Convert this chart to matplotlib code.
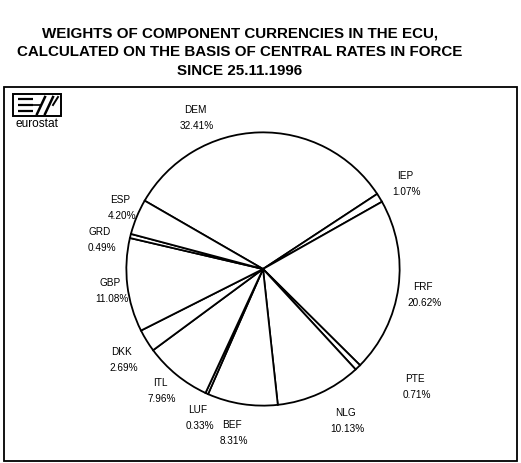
import matplotlib
matplotlib.use("Agg")
import matplotlib.pyplot as plt
from matplotlib.patches import Rectangle

# ECU basket weights, clockwise from the top
currencies = ["DEM", "IEP", "FRF", "PTE", "NLG", "BEF", "LUF", "ITL", "DKK", "GBP", "GRD", "ESP"]
weights = [32.41, 1.07, 20.62, 0.71, 10.13, 8.31, 0.33, 7.96, 2.69, 11.08, 0.49, 4.20]

TITLE = ("WEIGHTS OF COMPONENT CURRENCIES IN THE ECU,\n"
         "CALCULATED ON THE BASIS OF CENTRAL RATES IN FORCE\n"
         "SINCE 25.11.1996")

# label anchor (pixel coords of the name line) for each currency
LABEL_POS = {
    "DEM": (195, 110), "IEP": (405, 176), "FRF": (423, 287), "PTE": (415, 379),
    "NLG": (345, 413), "BEF": (232, 425), "LUF": (198, 410), "ITL": (160, 383),
    "DKK": (122, 352), "GBP": (110, 283), "GRD": (100, 232), "ESP": (120, 200),
}

W, H = 521, 464
plt.rcParams["font.family"] = ["Liberation Sans", "DejaVu Sans"]

fig = plt.figure(figsize=(W / 100, H / 100), dpi=100)
fig.patch.set_facecolor("white")

# overlay axes in pixel coordinates for frame, titles, labels, logo
bg = fig.add_axes([0, 0, 1, 1])
bg.set_xlim(0, W)
bg.set_ylim(H, 0)
bg.axis("off")

bg.text(240, 52, TITLE, ha="center", va="center", fontsize=10.9,
        fontweight="bold", linespacing=1.42)

bg.add_patch(Rectangle((4, 88), 513, 374, fill=False, ec="black", lw=1.3))

# eurostat logo
bg.add_patch(Rectangle((13, 95), 48, 22, fill=False, ec="black", lw=1.4))
for y in (100, 106, 112):
    bg.plot([18, 33], [y, y], color="black", lw=1.6, solid_capstyle="butt")
bg.plot([33, 40], [106, 106], color="black", lw=1.2)
bg.plot([37, 45], [115, 98], color="black", lw=1.8)
bg.plot([45, 53], [115, 98], color="black", lw=1.8)
bg.plot([53, 58], [106, 98], color="black", lw=1.4)
bg.text(37, 124, "eurostat", ha="center", va="center", fontsize=8.6)

# pie: centre (263, 270), radius 138 px
r = 138
cx, cy = 263, 270
pie_ax = fig.add_axes([(cx - r) / W, (H - cy - r) / H, 2 * r / W, 2 * r / H])
pie_ax.pie(weights, startangle=150, counterclock=False,
           colors=["white"] * len(weights),
           wedgeprops=dict(edgecolor="black", linewidth=1.3))
pie_ax.set_xlim(-1.01, 1.01)
pie_ax.set_ylim(-1.01, 1.01)
pie_ax.set_aspect("equal")

for name, w in zip(currencies, weights):
    x, y = LABEL_POS[name]
    bg.text(x, y, name, ha="center", va="center", fontsize=7.2)
    bg.text(x + 2, y + 16, f"{w:.2f}%", ha="center", va="center", fontsize=7.2)

fig.savefig("out.png", dpi=100)
